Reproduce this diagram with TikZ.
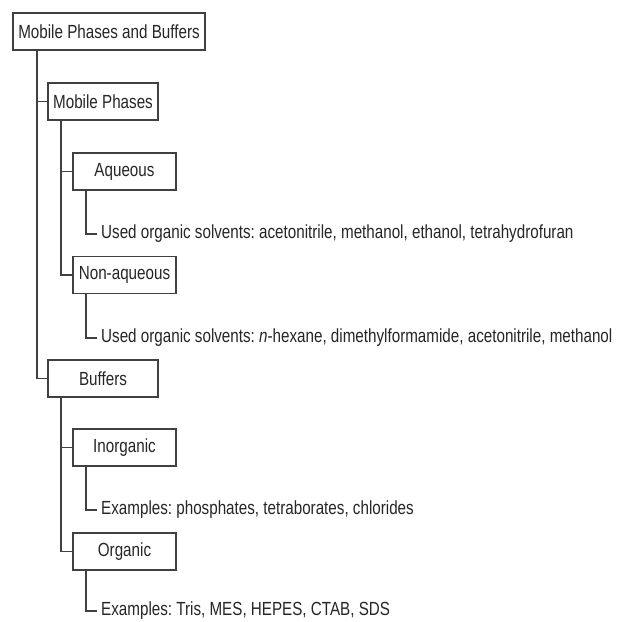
\documentclass[tikz,border=0pt]{standalone}
\usepackage{fontspec}
\setmainfont{Liberation Sans}[FakeStretch=0.8]
\definecolor{linec}{HTML}{404040}
\definecolor{txtc}{HTML}{262626}
\begin{document}
\frenchspacing
\begin{tikzpicture}[x=1pt,y=-1pt,
  font=\fontsize{19pt}{22pt}\selectfont,
  box/.style={draw=linec, line width=1.4pt, fill=white, minimum height=37pt, inner sep=0pt, text=txtc},
  wide/.style={minimum width=192pt},
  mid/.style={minimum width=110pt},
  small/.style={minimum width=103pt},
  leaf/.style={anchor=west, inner sep=4pt, text=txtc},
  conn/.style={draw=linec, line width=1.4pt}]
\fill[white] (0,0) rectangle (617,622);
\useasboundingbox (0,0) rectangle (617,622);
\coordinate (t0) at (37,0);
\coordinate (t1) at (61,0);
\coordinate (t2) at (86,0);
\node[box, wide] (root) at (109,31.5) {Mobile Phases and Buffers};
\node[box, mid] (mp) at (103,101.5) {Mobile Phases};
\node[box, small] (aq) at (124.5,171.5) {Aqueous};
\node[leaf] (aql) at (97,234) {Used organic solvents: acetonitrile, methanol, ethanol, tetrahydrofuran};
\node[box, small] (naq) at (124.5,275) {Non-aqueous};
\node[leaf] (naql) at (97,338) {Used organic solvents: \textit{n}-hexane, dimethylformamide, acetonitrile, methanol};
\node[box, mid] (buf) at (103,378.5) {Buffers};
\node[box, small] (inorg) at (124.5,447.5) {Inorganic};
\node[leaf] (inl) at (97,510) {Examples: phosphates, tetraborates, chlorides};
\node[box, small] (org) at (124.5,551.5) {Organic};
\node[leaf] (orl) at (97,611) {Examples: Tris, MES, HEPES, CTAB, SDS};
\draw[conn] (root.south -| t0) |- (buf.west);
\draw[conn] (root.south -| t0) |- (mp.west);
\draw[conn] (mp.south -| t1) |- (naq.west);
\draw[conn] (mp.south -| t1) |- (aq.west);
\draw[conn] (buf.south -| t1) |- (org.west);
\draw[conn] (buf.south -| t1) |- (inorg.west);
\draw[conn] (aq.south -| t2) |- (aql.west);
\draw[conn] (naq.south -| t2) |- (naql.west);
\draw[conn] (inorg.south -| t2) |- (inl.west);
\draw[conn] (org.south -| t2) |- (orl.west);
\end{tikzpicture}
\end{document}
